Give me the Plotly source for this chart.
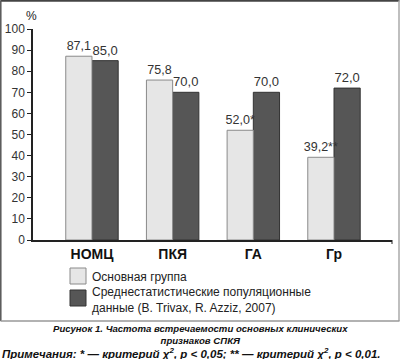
import plotly.graph_objects as go

categories = ["НОМЦ", "ПКЯ", "ГА", "Гр"]
main_group = [87.1, 75.8, 52.0, 39.2]
main_labels = ["87,1", "75,8", "52,0*", "39,2**"]
population = [85.0, 70.0, 70.0, 72.0]
population_labels = ["85,0", "70,0", "70,0", "72,0"]
y_ticks = [0, 10, 20, 30, 40, 50, 60, 70, 80, 90, 100]

W, H = 400, 359
L, R, T, B = 33, 392, 29, 240  # plot area in pixels
BAR_W = 0.325


def px(x):
    return (x - L) / (R - L)


def py(y):
    return (B - y) / (B - T)


fig = go.Figure()
# population bars drawn first so the main group labels sit on top of them
fig.add_trace(go.Bar(
    x=categories, y=population, text=population_labels, textposition="outside",
    name="Среднестатистические популяционные данные",
    offset=0, width=BAR_W,
    marker=dict(color="#565656", line=dict(color="#333", width=1)),
    textfont=dict(size=13, color="#333", family="Arial"),
    cliponaxis=False,
))
fig.add_trace(go.Bar(
    x=categories, y=main_group, text=main_labels, textposition="outside",
    name="Основная группа",
    offset=-BAR_W, width=BAR_W,
    marker=dict(color="#e6e6e6", line=dict(color="#8a8a8a", width=1)),
    textfont=dict(size=12.5, color="#333", family="Arial"),
    cliponaxis=False,
))

shapes = []
# frame around chart
shapes.append(dict(type="line", xref="paper", yref="paper", x0=px(0.5), x1=px(399.5), y0=py(0.8), y1=py(0.8), line=dict(color="#444", width=2)))
shapes.append(dict(type="line", xref="paper", yref="paper", x0=px(0.8), x1=px(0.8), y0=py(0.5), y1=py(321), line=dict(color="#555", width=1.5)))
shapes.append(dict(type="line", xref="paper", yref="paper", x0=px(399), x1=px(399), y0=py(0.5), y1=py(321), line=dict(color="#aaa", width=1.5)))
shapes.append(dict(type="line", xref="paper", yref="paper", x0=px(0.5), x1=px(399.5), y0=py(321), y1=py(321), line=dict(color="#999", width=1.5)))
# legend swatches
shapes.append(dict(type="rect", xref="paper", yref="paper", x0=px(70), x1=px(86), y0=py(268), y1=py(284), fillcolor="#e6e6e6", line=dict(color="#8a8a8a", width=1)))
shapes.append(dict(type="rect", xref="paper", yref="paper", x0=px(70), x1=px(86), y0=py(290), y1=py(306), fillcolor="#565656", line=dict(color="#333", width=1)))
# end tick of x axis
shapes.append(dict(type="line", xref="paper", yref="paper", x0=px(R), x1=px(R), y0=py(240), y1=py(244), line=dict(color="#222", width=1)))

annotations = [
    dict(text="%", x=px(31), y=py(16), xref="paper", yref="paper", showarrow=False,
         xanchor="center", yanchor="middle", font=dict(size=12, color="#222", family="Arial")),
    dict(text="Основная группа", x=px(90), y=py(277), xref="paper", yref="paper", showarrow=False,
         xanchor="left", yanchor="middle", font=dict(size=12, color="#222", family="Arial")),
    dict(text="Среднестатистические популяционные<br>данные (B. Trivax, R. Azziz, 2007)",
         x=px(90), y=py(299.5), xref="paper", yref="paper", showarrow=False, align="left",
         xanchor="left", yanchor="middle", font=dict(size=12, color="#222", family="Arial")),
    dict(text="<b><i>Рисунок 1. Частота встречаемости основных клинических<br>признаков СПКЯ</i></b>",
         x=px(200), y=py(334), xref="paper", yref="paper", showarrow=False, align="center",
         xanchor="center", yanchor="middle",
         font=dict(size=9.6, color="#111", family="Arial")),
    dict(text="<b><i>Примечания: * — критерий χ<sup>2</sup>, p &lt; 0,05; ** — критерий χ<sup>2</sup>, p &lt; 0,01.</i></b>",
         x=px(0), y=py(353), xref="paper", yref="paper", showarrow=False, xanchor="left",
         yanchor="middle", font=dict(size=11.5, color="#111", family="Arial")),
]

fig.update_layout(
    width=W, height=H,
    margin=dict(l=L, r=W - R, t=T, b=H - B, pad=0, autoexpand=False),
    paper_bgcolor="white", plot_bgcolor="white",
    barmode="overlay",
    showlegend=False,
    shapes=shapes, annotations=annotations,
    xaxis=dict(
        range=[-0.731, 3.719], showline=True, linecolor="#222", linewidth=1.5,
        showgrid=False, ticks="", tickfont=dict(size=14, color="#111", family="Arial"),
        tickprefix="<b>", ticksuffix="</b>", fixedrange=True, automargin=False,
    ),
    yaxis=dict(
        range=[0, 100], tickvals=y_ticks, showline=True, linecolor="#222", linewidth=1.5,
        showgrid=False, zeroline=False, ticks="outside", ticklen=4, tickcolor="#222",
        tickfont=dict(size=12, color="#333", family="Arial"), automargin=False,
    ),
)
fig.update_traces(constraintext="none")

fig.write_html(
    "out.html",
    config={"displayModeBar": False},
    post_script="document.body.style.margin='0';document.body.style.overflow='hidden';",
)
